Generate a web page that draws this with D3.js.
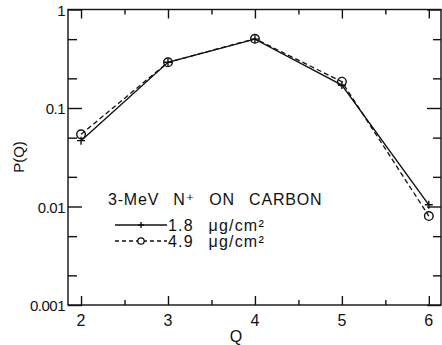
<!DOCTYPE html>
<html><head><meta charset="utf-8">
<script src="https://cdn.jsdelivr.net/npm/d3@7"></script>
<style>body{margin:0;background:#fff}svg{display:block}text{font-family:"Liberation Sans","DejaVu Sans",sans-serif;fill:#111}</style>
</head><body><svg id="c" width="442" height="345"></svg>
<script>
const qValues = [2, 3, 4, 5, 6];
const thin18 = [0.0466, 0.291, 0.50, 0.171, 0.0104];
const thick49 = [0.054, 0.291, 0.505, 0.185, 0.0080];
const yTickValues = [1, 0.1, 0.01, 0.001];
const yTickLabels = ["1", "0.1", "0.01", "0.001"];
const yMinorValues = [0.5, 0.2, 0.05, 0.02, 0.005, 0.002];
const xTickValues = [2, 3, 4, 5, 6];
const xMinorValues = [2.5, 3.5, 4.5, 5.5];
const legendTitle = "3-MeV N⁺ ON CARBON";
const legendLabels = ["1.8 μg/cm²", "4.9 μg/cm²"];

const svg = d3.select("#c");
const L = 68, R = 441, T = 9.5, B = 305;
const x = d3.scaleLinear().domain([1.85, 6.14]).range([L, R]);
const y = d3.scaleLog().domain([0.001, 1]).range([B, T]);
const col = "#111";

// frame
svg.append("rect").attr("x", L).attr("y", T).attr("width", R - L).attr("height", B - T)
  .attr("fill", "none").attr("stroke", col).attr("stroke-width", 1.4);

// y ticks (inward, both sides)
const yAxL = d3.axisRight(y).tickValues(yTickValues).tickSize(14).tickFormat("");
const yAxLm = d3.axisRight(y).tickValues(yMinorValues).tickSize(9).tickFormat("");
const yAxR = d3.axisLeft(y).tickValues(yTickValues).tickSize(14).tickFormat("");
const yAxRm = d3.axisLeft(y).tickValues(yMinorValues).tickSize(8).tickFormat("");
[[yAxL, L], [yAxLm, L], [yAxR, R], [yAxRm, R]].forEach(([ax, px]) => {
  const g = svg.append("g").attr("transform", `translate(${px},0)`).call(ax);
  g.select(".domain").remove();
  g.selectAll("line").attr("stroke", col).attr("stroke-width", 1.4);
});
// x ticks (inward, bottom and top)
const xB = d3.axisTop(x).tickValues(xTickValues).tickSize(9).tickFormat("");
const xBm = d3.axisTop(x).tickValues(xMinorValues).tickSize(5).tickFormat("");
const xT = d3.axisBottom(x).tickValues(xTickValues).tickSize(9).tickFormat("");
const xTm = d3.axisBottom(x).tickValues(xMinorValues).tickSize(5).tickFormat("");
[[xB, B], [xBm, B], [xT, T], [xTm, T]].forEach(([ax, py]) => {
  const g = svg.append("g").attr("transform", `translate(0,${py})`).call(ax);
  g.select(".domain").remove();
  g.selectAll("line").attr("stroke", col).attr("stroke-width", 1.4);
});

// tick labels
svg.append("g").selectAll("text").data(yTickValues).join("text")
  .attr("x", L - 3).attr("y", d => y(d) + 6).attr("text-anchor", "end")
  .attr("font-size", 15).attr("letter-spacing", -0.5)
  .text((d, i) => yTickLabels[i]);
svg.append("g").selectAll("text").data(xTickValues).join("text")
  .attr("x", d => x(d)).attr("y", 326).attr("text-anchor", "middle")
  .attr("font-size", 16).text(d => d);
svg.append("text").attr("x", 236).attr("y", 342).attr("text-anchor", "middle")
  .attr("font-size", 16).text("Q");
svg.append("text").attr("transform", "translate(24,157) rotate(-90)")
  .attr("text-anchor", "middle").attr("font-size", 15).text("P(Q)");

// lines
const line = d3.line().x((d, i) => x(qValues[i])).y(d => y(d));
svg.append("path").datum(thin18).attr("d", line).attr("fill", "none")
  .attr("stroke", col).attr("stroke-width", 1.4);
svg.append("path").datum(thick49).attr("d", line).attr("fill", "none")
  .attr("stroke", col).attr("stroke-width", 1.3).attr("stroke-dasharray", "5,3");

// markers
function plus(g, cx, cy, s) {
  g.append("path").attr("d", `M${cx - s},${cy}H${cx + s}M${cx},${cy - s}V${cy + s}`)
    .attr("stroke", col).attr("stroke-width", 1.4).attr("fill", "none");
}
const mg = svg.append("g");
thin18.forEach((v, i) => plus(mg, x(qValues[i]), y(v), 4));
mg.selectAll("circle").data(thick49).join("circle")
  .attr("cx", (d, i) => x(qValues[i])).attr("cy", d => y(d)).attr("r", 4.3)
  .attr("fill", "none").attr("stroke", col).attr("stroke-width", 1.4);

// legend
svg.append("text").attr("x", 108).attr("y", 205).attr("font-size", 16)
  .attr("word-spacing", 9).attr("letter-spacing", 0.8).text(legendTitle);
const lg = svg.append("g");
lg.append("line").attr("x1", 115).attr("x2", 167).attr("y1", 225).attr("y2", 225)
  .attr("stroke", col).attr("stroke-width", 1.3);
plus(lg, 141, 225, 3);
lg.append("line").attr("x1", 115).attr("x2", 167).attr("y1", 241).attr("y2", 241)
  .attr("stroke", col).attr("stroke-width", 1.3).attr("stroke-dasharray", "4,3");
lg.append("circle").attr("cx", 141).attr("cy", 241).attr("r", 3.2).attr("fill", "#fff")
  .attr("stroke", col).attr("stroke-width", 1.3);
legendLabels.forEach((t, i) => {
  lg.append("text").attr("x", 168).attr("y", 231 + i * 16).attr("font-size", 16)
    .attr("word-spacing", 9).attr("letter-spacing", 1.2).text(t);
});
</script></body></html>
